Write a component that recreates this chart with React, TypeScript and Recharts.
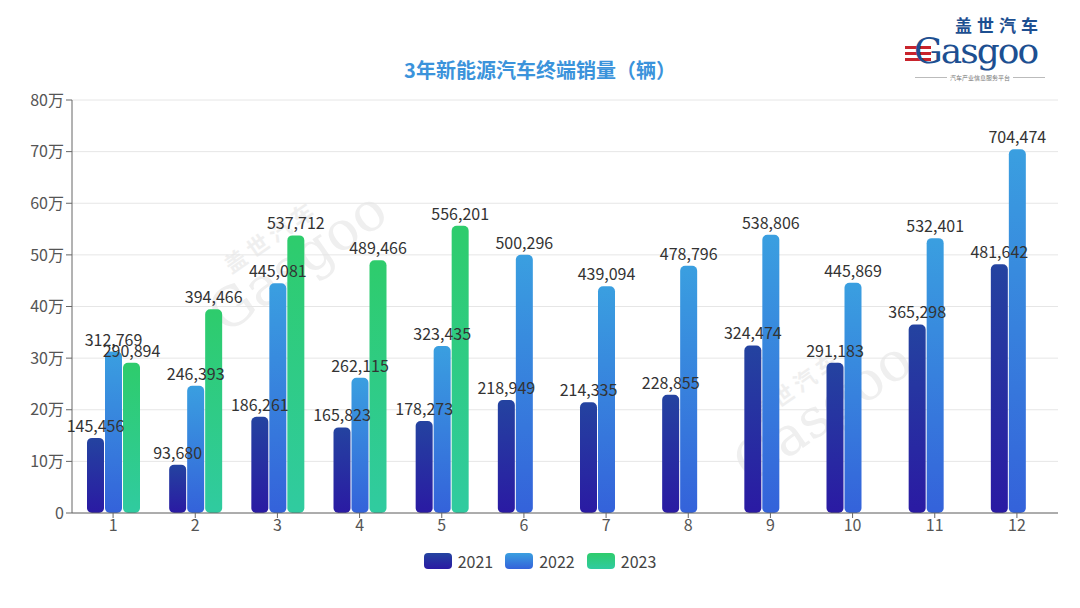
import React from "react";
import {
  BarChart,
  Bar,
  XAxis,
  YAxis,
  CartesianGrid,
  LabelList,
  Legend,
} from "recharts";

const months = ["1", "2", "3", "4", "5", "6", "7", "8", "9", "10", "11", "12"];
const sales2021 = [145456, 93680, 186261, 165823, 178273, 218949, 214335, 228855, 324474, 291183, 365298, 481642];
const sales2022 = [312769, 246393, 445081, 262115, 323435, 500296, 439094, 478796, 538806, 445869, 532401, 704474];
const sales2023: (number | null)[] = [290894, 394466, 537712, 489466, 556201, null, null, null, null, null, null, null];
const yTicks = [0, 100000, 200000, 300000, 400000, 500000, 600000, 700000, 800000];

const data = months.map((m, i) => ({
  month: m,
  y2021: sales2021[i],
  y2022: sales2022[i],
  y2023: sales2023[i],
}));

const FONT = '"Noto Sans CJK SC", "Noto Sans", sans-serif';

const series = [
  { key: "y2021", name: "2021", top: "#2443a0", bottom: "#2a1aa3" },
  { key: "y2022", name: "2022", top: "#3a9fe0", bottom: "#3462da" },
  { key: "y2023", name: "2023", top: "#2ecc6c", bottom: "#30cba0" },
];

const fmt = (v: any) => (v == null ? "" : Number(v).toLocaleString("en-US"));
const fmtY = (v: number) => (v === 0 ? "0" : `${v / 10000}万`);

function LegendContent() {
  return (
    <div style={{ display: "flex", justifyContent: "center", alignItems: "center", height: 30, fontFamily: FONT }}>
      {series.map((s) => (
        <div key={s.key} style={{ display: "flex", alignItems: "center", margin: "0 6px" }}>
          <div
            style={{
              width: 28,
              height: 16,
              borderRadius: 4,
              background: `linear-gradient(to bottom, ${s.top}, ${s.bottom})`,
              marginRight: 6,
            }}
          />
          <span style={{ fontSize: 16, color: "#444" }}>{s.name}</span>
        </div>
      ))}
    </div>
  );
}

function Watermark({ left, top }: { left: number; top: number }) {
  return (
    <div
      style={{
        position: "absolute",
        left,
        top,
        transform: "rotate(-35deg)",
        color: "#efefef",
        fontFamily: FONT,
        lineHeight: 1,
        pointerEvents: "none",
      }}
    >
      <div style={{ fontSize: 22, fontWeight: 700, marginLeft: 40 }}>盖 世 汽 车</div>
      <div style={{ fontSize: 54, fontFamily: '"DejaVu Serif", serif' }}>Gasgoo</div>
    </div>
  );
}

export default function App() {
  return (
    <div style={{ position: "absolute", left: 0, top: 0, width: 1080, height: 608, background: "#fff", overflow: "hidden" }}>
      <Watermark left={190} top={215} />
      <Watermark left={715} top={365} />
      <div
        style={{
          position: "absolute",
          top: 55,
          left: 0,
          width: 1080,
          textAlign: "center",
          fontFamily: FONT,
          fontSize: 20,
          fontWeight: 700,
          color: "#3b93db",
        }}
      >
        3年新能源汽车终端销量（辆）
      </div>
      {/* logo */}
      <div style={{ position: "absolute", left: 900, top: 10, width: 160, height: 75, fontFamily: FONT }}>
        <div
          style={{
            position: "absolute",
            left: 55,
            top: 6,
            fontSize: 17,
            lineHeight: 1,
            fontWeight: 700,
            color: "#1d4f91",
            letterSpacing: 5,
          }}
        >
          盖世汽车
        </div>
        <div style={{ position: "absolute", left: 5, top: 36, width: 26, height: 3, background: "#c8242c" }} />
        <div style={{ position: "absolute", left: 5, top: 42, width: 26, height: 3, background: "#c8242c" }} />
        <div style={{ position: "absolute", left: 5, top: 48, width: 26, height: 3, background: "#c8242c" }} />
        <div
          style={{
            position: "absolute",
            left: 14,
            top: 23,
            fontSize: 36,
            fontFamily: '"DejaVu Serif", serif',
            color: "#1d4f91",
            letterSpacing: -2,
            lineHeight: 1,
          }}
        >
          Gasgoo
        </div>
        <div style={{ position: "absolute", left: 15, top: 63, width: 130, display: "flex", alignItems: "center" }}>
          <div style={{ flex: 1, height: 1, background: "#bbb" }} />
          <span style={{ fontSize: 6, color: "#777", margin: "0 3px", whiteSpace: "nowrap" }}>汽车产业信息服务平台</span>
          <div style={{ flex: 1, height: 1, background: "#bbb" }} />
        </div>
      </div>
      <div style={{ position: "absolute", left: 0, top: 0 }}>
        <BarChart
          width={1080}
          height={608}
          data={data}
          margin={{ top: 100, right: 22, left: 0, bottom: 32 }}
          barSize={17}
          barGap={1}
          style={{ fontFamily: FONT }}
        >
          <defs>
            {series.map((s) => (
              <linearGradient key={s.key} id={`grad-${s.key}`} x1="0" y1="0" x2="0" y2="1">
                <stop offset="0%" stopColor={s.top} />
                <stop offset="100%" stopColor={s.bottom} />
              </linearGradient>
            ))}
          </defs>
          <CartesianGrid vertical={false} stroke="#e6e6e6" />
          <XAxis
            dataKey="month"
            height={33}
            tick={{ fontSize: 16, fill: "#555" }}
            tickSize={5}
            axisLine={{ stroke: "#666" }}
            tickLine={{ stroke: "#666" }}
          />
          <YAxis
            width={72}
            domain={[0, 800000]}
            ticks={yTicks}
            tickFormatter={fmtY}
            tick={{ fontSize: 16, fill: "#555" }}
            tickSize={6}
            axisLine={{ stroke: "#666" }}
            tickLine={{ stroke: "#666" }}
            interval={0}
          />
          <Legend
            verticalAlign="bottom"
            height={30}
            content={<LegendContent />}
            wrapperStyle={{ left: 0, width: 1080 }}
          />
          {series.map((s) => (
            <Bar
              key={s.key}
              dataKey={s.key}
              name={s.name}
              fill={`url(#grad-${s.key})`}
              radius={5}
              isAnimationActive={false}
            >
              <LabelList
                dataKey={s.key}
                position="top"
                offset={6}
                formatter={fmt}
                style={{ fontSize: 16, fill: "#333" }}
              />
            </Bar>
          ))}
        </BarChart>
      </div>
    </div>
  );
}
